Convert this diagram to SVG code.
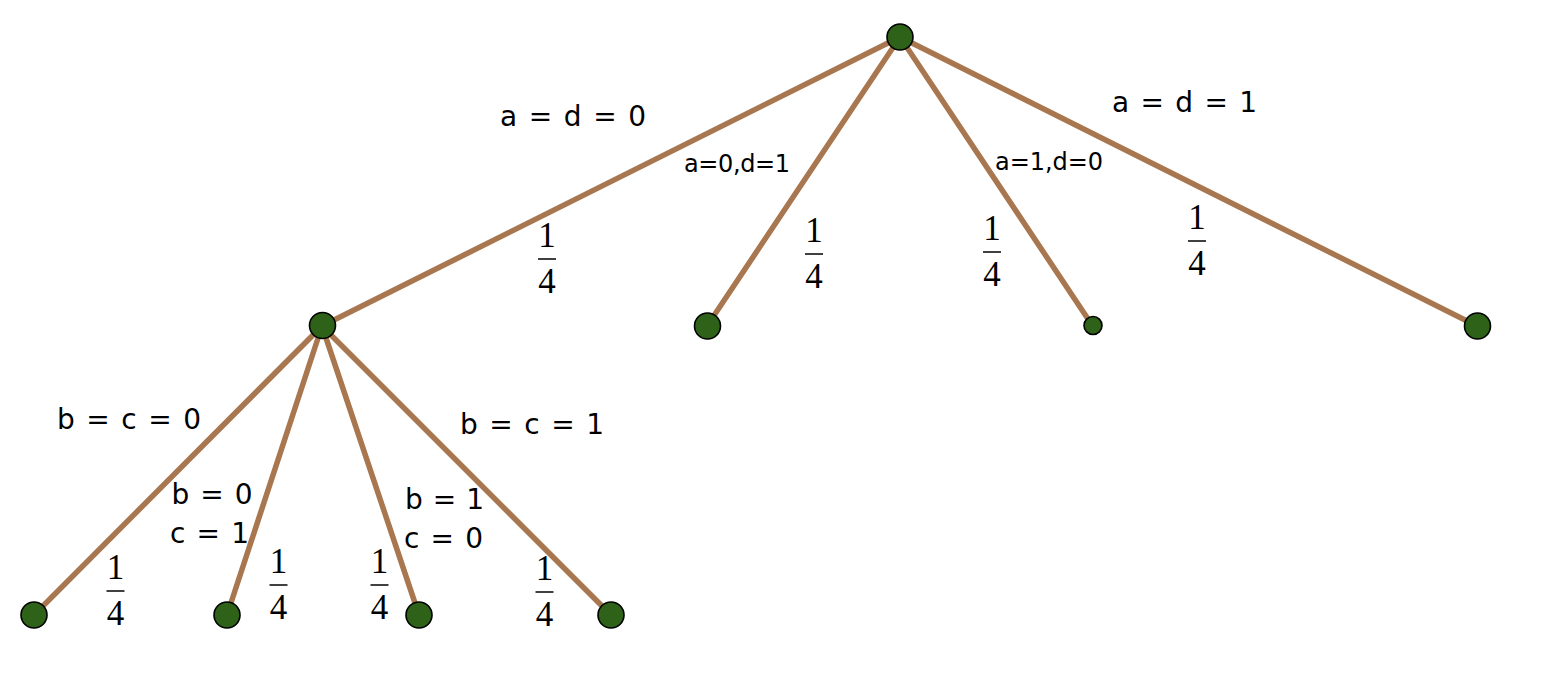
<svg xmlns="http://www.w3.org/2000/svg" width="1564" height="678" viewBox="0 0 1564 678">
<style>
.edge{stroke:#a8774f;stroke-width:5.5;stroke-linecap:round;fill:none}
.node{fill:#2e6219;stroke:#000;stroke-width:1.6}
.lbl{font-family:"DejaVu Sans","Liberation Sans",sans-serif;font-size:28px;fill:#000}
.sm{font-size:24px}
.frac{font-family:"Liberation Serif",serif;font-size:35px;fill:#000;text-anchor:middle}
.bar{stroke:#000;stroke-width:1.5}
</style>
<rect width="1564" height="678" fill="#fff"/>
<g id="connectors">
<line class="edge" x1="900" y1="37" x2="322" y2="326"/>
<line class="edge" x1="900" y1="37" x2="707" y2="326"/>
<line class="edge" x1="900" y1="37" x2="1092" y2="325"/>
<line class="edge" x1="900" y1="37" x2="1477" y2="326"/>
<line class="edge" x1="322" y1="326" x2="34" y2="615"/>
<line class="edge" x1="322" y1="326" x2="227" y2="615"/>
<line class="edge" x1="322" y1="326" x2="419" y2="615"/>
<line class="edge" x1="322" y1="326" x2="611" y2="615"/>
</g>
<g id="labels">
<text class="lbl" x="500" y="125.5" textLength="146" lengthAdjust="spacing">a = d = 0</text>
<text class="lbl sm" x="684" y="171.5" textLength="106" lengthAdjust="spacing">a=0,d=1</text>
<text class="lbl sm" x="995" y="169.5" textLength="108" lengthAdjust="spacing">a=1,d=0</text>
<text class="lbl" x="1112" y="111.5" textLength="145" lengthAdjust="spacing">a = d = 1</text>
<text class="lbl" x="57" y="429" textLength="144" lengthAdjust="spacing">b = c = 0</text>
<text class="lbl" x="460" y="434" textLength="144" lengthAdjust="spacing">b = c = 1</text>
<text class="lbl" x="171.5" y="504" textLength="81" lengthAdjust="spacing">b = 0</text>
<text class="lbl" x="170" y="543" textLength="79" lengthAdjust="spacing">c = 1</text>
<text class="lbl" x="405" y="509" textLength="79" lengthAdjust="spacing">b = 1</text>
<text class="lbl" x="404" y="548" textLength="79" lengthAdjust="spacing">c = 0</text>
</g>
<g id="fractions">
<g id="f-r1"><text class="frac" x="547" y="247">1</text><line class="bar" x1="538" y1="259" x2="556" y2="259"/><text class="frac" x="547" y="293">4</text></g>
<g id="f-r2"><text class="frac" x="814" y="242">1</text><line class="bar" x1="805" y1="254" x2="823" y2="254"/><text class="frac" x="814" y="288">4</text></g>
<g id="f-r3"><text class="frac" x="992" y="240">1</text><line class="bar" x1="983" y1="252" x2="1001" y2="252"/><text class="frac" x="992" y="286">4</text></g>
<g id="f-r4"><text class="frac" x="1197" y="229">1</text><line class="bar" x1="1188" y1="241" x2="1206" y2="241"/><text class="frac" x="1197" y="275">4</text></g>
<g id="f-l1"><text class="frac" x="115.5" y="578.5">1</text><line class="bar" x1="106.5" y1="591" x2="124.5" y2="591"/><text class="frac" x="115.5" y="625">4</text></g>
<g id="f-l2"><text class="frac" x="278.5" y="573">1</text><line class="bar" x1="269.5" y1="585" x2="287.5" y2="585"/><text class="frac" x="278.5" y="619">4</text></g>
<g id="f-l3"><text class="frac" x="379.5" y="573">1</text><line class="bar" x1="370.5" y1="585" x2="388.5" y2="585"/><text class="frac" x="379.5" y="619">4</text></g>
<g id="f-l4"><text class="frac" x="544.5" y="579.5">1</text><line class="bar" x1="535.5" y1="592" x2="553.5" y2="592"/><text class="frac" x="544.5" y="625.5">4</text></g>
</g>
<g id="root"><circle class="node" cx="900" cy="37" r="13"/></g>
<g id="n-a0d0"><circle class="node" cx="322.5" cy="325.5" r="13"/></g>
<g id="n-a0d1"><circle class="node" cx="707.5" cy="326" r="13"/></g>
<g id="n-a1d0"><circle class="node" cx="1093" cy="325.5" r="9"/></g>
<g id="n-a1d1"><circle class="node" cx="1477.5" cy="326" r="13"/></g>
<g id="n-b0c0"><circle class="node" cx="34" cy="615" r="13"/></g>
<g id="n-b0c1"><circle class="node" cx="227" cy="615" r="13"/></g>
<g id="n-b1c0"><circle class="node" cx="419" cy="615" r="13"/></g>
<g id="n-b1c1"><circle class="node" cx="611" cy="615" r="13"/></g>
</svg>
